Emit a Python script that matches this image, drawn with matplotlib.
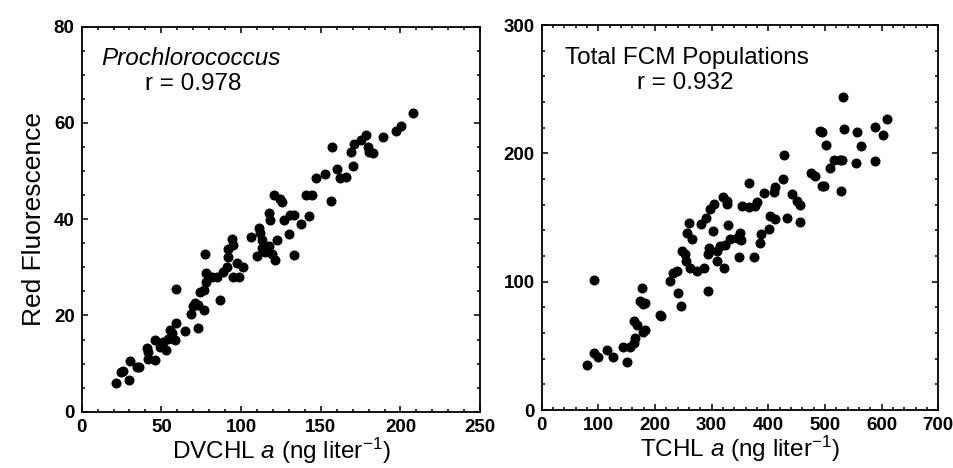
import matplotlib
matplotlib.use('Agg')
import matplotlib.pyplot as plt
from matplotlib.ticker import MultipleLocator

plt.rcParams['font.family'] = ['Liberation Sans', 'DejaVu Sans']
plt.rcParams['mathtext.fontset'] = 'custom'
plt.rcParams['mathtext.rm'] = 'Liberation Sans'
plt.rcParams['mathtext.it'] = 'Liberation Sans:italic'

# Prochlorococcus: DVCHL a vs red fluorescence
dvchl = [21.5, 24.6, 25.7, 29.9, 30.3, 34.5, 36.2, 40.9, 41.5, 41.5, 45.7, 45.7, 48.9,
         53.0, 51.0, 54.1, 55.2, 56.9, 58.4, 59.4, 59.0, 64.6, 68.4, 69.9, 71.0, 73.1,
         73.1, 76.7, 77.3, 74.1, 76.7, 78.3, 78.3, 81.5, 86.8, 84.7, 88.9, 91.0, 92.0,
         94.1, 95.2, 92.0, 95.2, 97.3, 98.4, 101.5, 106.1, 110.0, 111.0, 112.0, 113.1,
         113.1, 115.2, 117.3, 117.3, 118.4, 119.4, 121.5, 120.5, 122.6, 124.7, 125.7,
         127.2, 130.0, 131.0, 133.5, 133.1, 137.3, 140.5, 142.6, 144.7, 146.8, 152.7,
         156.3, 157.3, 160.0, 162.2, 165.8, 170.0, 169.0, 171.0, 175.2, 178.4, 179.5,
         180.5, 182.6, 189.0, 197.4, 200.1, 207.9]
red_p = [6.0, 8.3, 8.4, 6.6, 10.5, 9.3, 9.3, 13.3, 12.5, 10.9, 10.7, 14.9, 13.5,
         12.8, 14.5, 15.2, 17.0, 16.3, 14.9, 18.4, 25.6, 16.8, 20.2, 21.9, 22.5, 17.3,
         22.2, 21.1, 32.8, 24.9, 25.3, 27.0, 28.9, 28.0, 23.2, 28.0, 29.1, 30.1, 33.9,
         35.8, 34.6, 32.2, 28.0, 30.8, 28.0, 30.1, 36.2, 32.3, 38.1, 37.1, 35.7,
         34.0, 33.1, 34.4, 41.2, 39.8, 32.8, 31.6, 45.0, 35.7, 44.3, 43.6, 39.8,
         37.0, 40.9, 32.5, 40.9, 39.0, 45.0, 40.6, 45.1, 48.6, 49.3, 43.8, 55.0,
         50.4, 48.6, 48.8, 51.0, 54.0, 55.7, 56.4, 57.6, 55.1, 54.0, 53.8, 57.1,
         58.4, 59.3, 62.1]

# Total FCM populations: TCHL a vs red fluorescence
tchl = [79.5, 93.0, 93.0, 100.1, 115.0, 125.5, 144.4, 150.3, 156.2, 162.1, 162.1,
        165.0, 167.9, 172.7, 179.7, 182.7, 176.8, 179.7, 182.7, 209.2, 210.4, 226.9,
        231.6, 238.7, 239.9, 246.3, 247.5, 253.4, 255.2, 256.4, 260.5, 265.2, 261.1,
        274.0, 281.0, 285.8, 294.6, 292.8, 292.8, 290.5, 297.6, 303.5, 302.3, 309.4,
        309.4, 315.3, 319.4, 321.2, 324.1, 327.1, 327.1, 328.2, 331.8, 344.7, 347.7,
        350.6, 351.8, 353.5, 365.3, 365.3, 374.2, 377.1, 380.1, 384.8, 387.2, 391.9,
        400.7, 403.7, 409.6, 412.5, 412.5, 425.9, 428.4, 433.0, 442.0, 450.8, 455.5,
        456.7, 475.5, 483.2, 490.9, 495.0, 495.0, 498.0, 502.6, 508.5, 516.8, 527.4,
        528.6, 530.4, 532.0, 534.5, 554.0, 556.8, 562.8, 587.5, 589.0, 603.0, 610.0]
red_t = [34.7, 44.4, 101.2, 41.7, 46.4, 41.7, 49.3, 37.3, 49.3, 51.9, 69.0, 55.8,
         66.3, 84.8, 60.7, 62.0, 95.2, 82.7, 83.5, 74.4, 73.1, 100.4, 107.0, 108.3,
         90.8, 80.9, 124.0, 121.4, 116.2, 138.3, 145.6, 133.3, 110.6, 108.0, 144.8,
         110.6, 126.5, 121.4, 92.6, 149.5, 156.5, 160.4, 139.6, 123.9, 116.1, 127.8,
         165.7, 110.9, 128.4, 160.4, 163.0, 144.0, 133.0, 134.3, 119.2, 138.3, 132.3,
         158.6, 176.6, 158.3, 119.2, 159.1, 162.3, 130.4, 137.4, 168.8, 140.9, 151.3,
         170.0, 173.9, 148.7, 180.0, 199.0, 150.0, 168.0, 162.8, 159.6, 146.9, 185.0,
         182.4, 217.8, 216.5, 174.8, 174.8, 206.9, 188.6, 194.8, 195.0, 170.9, 195.0,
         244.0, 219.0, 192.3, 216.5, 206.0, 220.5, 193.8, 214.4, 226.5]

fig = plt.figure(figsize=(9.54, 4.68), dpi=100)
ax1 = fig.add_axes([0.0856, 0.1203, 0.4177, 0.8226])
ax2 = fig.add_axes([0.5678, 0.1239, 0.4157, 0.8226])

for ax in (ax1, ax2):
    for sp in ax.spines.values():
        sp.set_linewidth(1.3)
    ax.tick_params(which='both', direction='in', top=True, right=True, width=1.1,
                   labelsize=13.5)
    ax.tick_params(which='major', length=4, pad=5)
    ax.tick_params(which='minor', length=2)

ax1.plot(dvchl, red_p, 'o', color='black', ms=6.2, mec='black')
ax1.set_xlim(0, 250)
ax1.set_ylim(0, 80)
ax1.xaxis.set_major_locator(MultipleLocator(50))
ax1.xaxis.set_minor_locator(MultipleLocator(10))
ax1.yaxis.set_major_locator(MultipleLocator(20))
ax1.yaxis.set_minor_locator(MultipleLocator(5))
ax1.set_xlabel('DVCHL $\\mathit{a}$ (ng liter$^{-1}$)', fontsize=17.5, labelpad=0)
ax1.set_ylabel('Red Fluorescence', fontsize=19, labelpad=6)
ax1.text(0.05, 0.9, 'Prochlorococcus', transform=ax1.transAxes, fontsize=17.5,
         style='italic')
ax1.text(0.16, 0.835, 'r = 0.978', transform=ax1.transAxes, fontsize=17.5)

ax2.plot(tchl, red_t, 'o', color='black', ms=6.2, mec='black')
ax2.set_xlim(0, 700)
ax2.set_ylim(0, 300)
ax2.xaxis.set_major_locator(MultipleLocator(100))
ax2.xaxis.set_minor_locator(MultipleLocator(20))
ax2.yaxis.set_major_locator(MultipleLocator(100))
ax2.yaxis.set_minor_locator(MultipleLocator(20))
ax2.set_xlabel('TCHL $\\mathit{a}$ (ng liter$^{-1}$)', fontsize=17.5, labelpad=0)
ax2.text(0.058, 0.9, 'Total FCM Populations', transform=ax2.transAxes, fontsize=17.5)
ax2.text(0.24, 0.835, 'r = 0.932', transform=ax2.transAxes, fontsize=17.5)

for ax in (ax1, ax2):
    for lab in ax.get_xticklabels() + ax.get_yticklabels():
        lab.set_fontweight('bold')

fig.savefig('out.png', dpi=100)
